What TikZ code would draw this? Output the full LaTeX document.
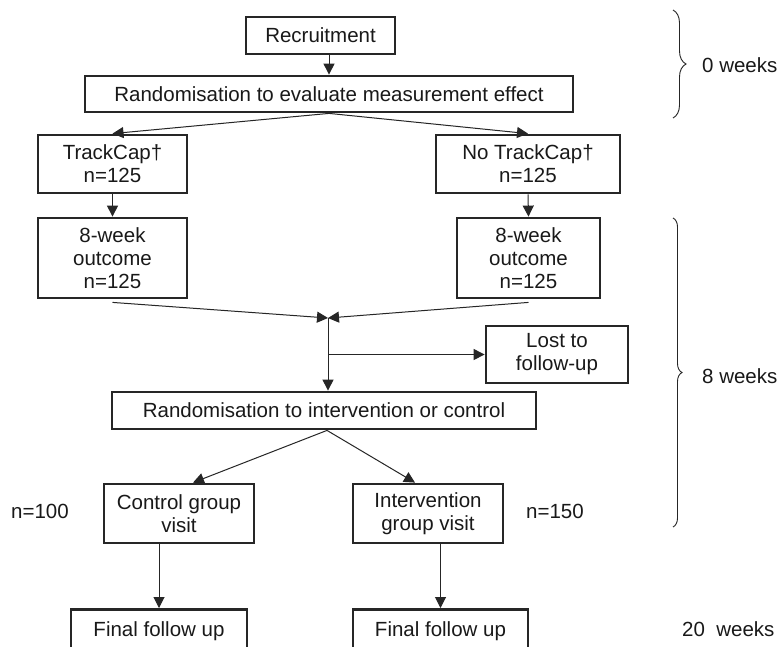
\documentclass[tikz,border=0pt]{standalone}
\usepackage{fontspec}
\setmainfont{Liberation Sans}
\usetikzlibrary{arrows.meta,calc,decorations.pathreplacing}
\newcommand{\diagfont}{\fontsize{20.5pt}{23pt}\selectfont}
\begin{document}
\begin{tikzpicture}[x=1pt,y=-1pt,
  box/.style={draw=black!85, line width=2.8pt, inner sep=0pt, align=center, font=\diagfont, text=black!90},
  lbl/.style={inner sep=0pt, font=\diagfont, text=black!90},
  conn/.style={draw=black!85, line width=1pt, -{Triangle[length=11pt,width=11pt]}},
  bracea/.style={draw=black!85, line width=0.9pt, decorate, decoration={brace, amplitude=13pt}},
  braceb/.style={draw=black!85, line width=0.9pt, decorate, decoration={brace, amplitude=9pt}}]
\useasboundingbox (0,0) rectangle (781,646);
\clip (0,0) rectangle (781,646);
\fill[white] (0,0) rectangle (781,646);

% boxes
\node[box, minimum width=149pt, minimum height=37pt] (rec) at (320.5,35.5) {Recruitment};
\node[box, minimum width=488pt, minimum height=36pt] (rand1) at (329,94) {Randomisation to evaluate measurement effect};
\node[box, minimum width=149pt, minimum height=58pt] (tc) at (112.5,164) {TrackCap†\\n=125};
\node[box, minimum width=184pt, minimum height=58pt] (ntc) at (528,164) {No TrackCap†\\n=125};
\node[box, minimum width=149pt, minimum height=80pt] (wk1) at (112.5,258) {8-week\\outcome\\n=125};
\node[box, minimum width=143pt, minimum height=80pt] (wk2) at (528.5,258) {8-week\\outcome\\n=125};
\node[box, minimum width=142pt, minimum height=57pt] (lost) at (557,354.5) {Lost to\\follow-up};
\node[box, minimum width=424pt, minimum height=37pt] (rand2) at (324,410.5) {Randomisation to intervention or control};
\node[box, minimum width=150pt, minimum height=59pt] (ctrl) at (179,513.5) {Control group\\visit};
\node[box, minimum width=150pt, minimum height=59pt] (int) at (428,513.5) {Intervention\\group visit};
\node[box, minimum width=176pt, minimum height=44pt, anchor=north] (fin1) at (159,608) {Final follow up};
\node[box, minimum width=175pt, minimum height=44pt, anchor=north] (fin2) at (440.5,608) {Final follow up};

% side labels
\node[lbl] (n100) at (40,511) {n=100};
\node[lbl] (n150) at (555,511) {n=150};
\node[lbl, anchor=west] (w0) at (702,65) {0 weeks};
\node[lbl, anchor=west] (w8) at (702,376) {8 weeks};
\node[lbl, anchor=west] (w20) at (682,629) {20\ \ weeks};

% braces
\coordinate (b1t) at (673,10);
\coordinate (b1b) at (673,118);
\coordinate (b2t) at (673,218);
\coordinate (b2b) at (673,527);
\draw[bracea] (b1t) -- (b1b);
\draw[braceb] (b2t) -- (b2b);

% connectors
\draw[conn] (rec.south -| rand1.north) -- (rand1.north);
\draw[conn] (rand1.south) -- (tc.north);
\draw[conn] (rand1.south) -- (ntc.north);
\draw[conn] (tc.south) -- (wk1.north);
\draw[conn] (ntc.south) -- (wk2.north);
\coordinate (m) at (328,318);
\draw[conn] ($(wk1.south)+(0,3)$) -- (m);
\draw[conn] ($(wk2.south)+(0,3)$) -- (m);
\draw[conn] (m) -- (m |- rand2.north);
\draw[conn] (m |- lost.west) -- (lost.west);
\coordinate (r2s) at ($(rand2.south)+(3,0)$);
\draw[conn] (r2s) -- ($(ctrl.north)+(14,0)$);
\draw[conn] (r2s) -- ($(int.north)+(-13,0)$);
\draw[conn] (ctrl.south -| fin1.north) -- (fin1.north);
\draw[conn] (int.south -| fin2.north) -- (fin2.north);
\end{tikzpicture}
\end{document}
